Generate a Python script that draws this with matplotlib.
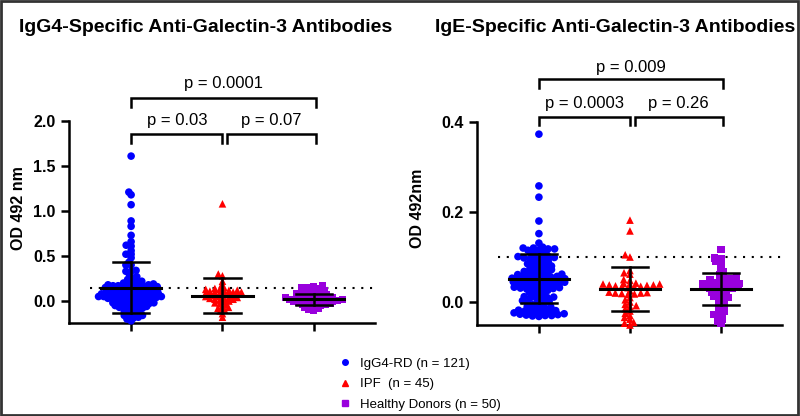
import numpy as np
import matplotlib
matplotlib.use('Agg')
import matplotlib.pyplot as plt
from matplotlib.patches import Rectangle
from matplotlib.lines import Line2D

plt.rcParams['font.family'] = ['Liberation Sans', 'DejaVu Sans']

groups = ['IgG4-RD', 'IPF', 'Healthy Donors']
legend_labels = ['IgG4-RD (n = 121)', 'IPF  (n = 45)', 'Healthy Donors (n = 50)']
colors = ['#0000FF', '#FF0000', '#9900DD']
markers = ['o', '^', 's']

# ---------------- Panel A: IgG4-specific ----------------
igg4_rd_A = [1.61, 1.21, 1.18, 1.07, 0.89, 0.83, 0.73, 0.66, 0.62, 0.61, 0.56, 0.52, 0.52,
             0.48, 0.43, 0.40, 0.40, 0.34, 0.33, 0.33, 0.29, 0.27, 0.26, 0.24, 0.22, 0.22,
             0.21, 0.20,
             0.195, 0.19, 0.185, 0.18, 0.18, 0.175, 0.17, 0.17, 0.165, 0.16, 0.16, 0.155,
             0.15, 0.15, 0.145,
             0.14, 0.14, 0.135, 0.13, 0.13, 0.125, 0.12, 0.12, 0.115, 0.11, 0.11, 0.105,
             0.10, 0.10, 0.10, 0.09, 0.09, 0.09, 0.08, 0.08, 0.08, 0.07, 0.07, 0.07,
             0.06, 0.06, 0.06, 0.05, 0.05, 0.05, 0.05, 0.04, 0.04, 0.04, 0.03, 0.03, 0.03,
             0.02, 0.02, 0.02, 0.01, 0.01, 0.00, 0.00,
             -0.01, -0.01, -0.02, -0.02, -0.02, -0.03, -0.03, -0.03,
             -0.04, -0.04, -0.05, -0.05, -0.06, -0.06, -0.07, -0.07, -0.08, -0.08,
             -0.09, -0.10, -0.11, -0.12, -0.13, -0.14, -0.15, -0.16, -0.16, -0.17,
             -0.18, -0.19, -0.20, -0.22, 0.035, 0.065]
ipf_A = [1.08, 0.30, 0.28, 0.22, 0.18, 0.15, 0.14, 0.13, 0.13, 0.12, 0.12, 0.11, 0.11,
         0.10, 0.10, 0.10, 0.09, 0.09, 0.08, 0.08, 0.07, 0.07, 0.06, 0.06, 0.05, 0.05,
         0.04, 0.04, 0.03, 0.03, 0.02, 0.02, 0.01, 0.00, -0.01, -0.02, -0.03, -0.04,
         -0.06, -0.07, -0.08, -0.09, -0.11, -0.14, -0.18]
hd_A = [0.17, 0.16, 0.15, 0.15, 0.14, 0.13, 0.12, 0.12, 0.11, 0.10, 0.10, 0.09, 0.08,
        0.08, 0.07, 0.07, 0.06, 0.06, 0.05, 0.05, 0.04, 0.04, 0.04, 0.03, 0.03, 0.03,
        0.02, 0.02, 0.02, 0.01, 0.01, 0.01, 0.00, 0.00, 0.00, -0.01, -0.01, -0.02,
        -0.02, -0.03, -0.03, -0.04, -0.04, -0.05, -0.05, -0.06, -0.07, -0.08, -0.09, -0.10]
mean_A = [0.148, 0.056, 0.019]
sd_lo_A = [-0.13, -0.137, -0.044]
sd_hi_A = [0.437, 0.26, 0.078]
cutoff_A = 0.15

# ---------------- Panel B: IgE-specific ----------------
igg4_rd_B = [0.373, 0.258, 0.233, 0.180, 0.152, 0.131,
             0.122, 0.120, 0.120, 0.118, 0.118, 0.116, 0.115,
             0.112, 0.110, 0.108,
             0.104, 0.102, 0.101, 0.100, 0.099, 0.098, 0.097, 0.096, 0.095,
             0.092, 0.090, 0.088, 0.087, 0.085,
             0.083, 0.081, 0.080, 0.078, 0.076,
             0.074, 0.072, 0.071, 0.070, 0.068, 0.066, 0.065,
             0.064, 0.062, 0.061, 0.060, 0.059, 0.058, 0.057, 0.056,
             0.055, 0.054, 0.053, 0.052, 0.052, 0.051, 0.050, 0.049, 0.048, 0.047, 0.046,
             0.045, 0.044, 0.044, 0.043, 0.042, 0.041, 0.040, 0.039, 0.038, 0.037, 0.036,
             0.035, 0.034, 0.033, 0.032, 0.031, 0.030, 0.030, 0.029, 0.028,
             0.026, 0.024, 0.022, 0.020, 0.018,
             0.014, 0.012, 0.011, 0.010, 0.009, 0.008,
             0.005, 0.003, 0.001, 0.000, -0.001, -0.003,
             -0.006, -0.008, -0.010, -0.011, -0.012, -0.014,
             -0.016, -0.018, -0.019, -0.020, -0.021, -0.022, -0.023,
             -0.024, -0.025, -0.026, -0.027, -0.028, -0.029, -0.030, -0.030, -0.031, -0.032]
ipf_B = [0.182, 0.158, 0.105, 0.100, 0.070, 0.065, 0.062, 0.050, 0.048,
         0.042, 0.041, 0.040, 0.040, 0.039, 0.038, 0.038, 0.037, 0.036, 0.035, 0.034,
         0.033, 0.032,
         0.025, 0.022, 0.021, 0.020, 0.020, 0.019, 0.018, 0.017,
         0.010, 0.005, 0.000, -0.005, -0.008, -0.010,
         -0.015, -0.020, -0.025, -0.030, -0.034, -0.038, -0.045, -0.047, -0.051]
hd_B = [0.116, 0.098, 0.096, 0.090, 0.086, 0.075, 0.068, 0.062,
        0.056, 0.054, 0.052, 0.050, 0.049, 0.047,
        0.044, 0.042, 0.041, 0.040, 0.039, 0.038, 0.037, 0.036,
        0.034, 0.032, 0.031, 0.030, 0.029, 0.028,
        0.024, 0.022, 0.020, 0.018, 0.014, 0.012, 0.010, 0.008,
        0.004, 0.000, -0.004, -0.008, -0.012, -0.016, -0.020, -0.024,
        -0.028, -0.030, -0.034, -0.038, -0.042, -0.048]
mean_B = [0.052, 0.028, 0.030]
sd_lo_B = [-0.003, -0.020, -0.007]
sd_hi_B = [0.106, 0.077, 0.064]
cutoff_B = 0.10

titles = ['IgG4-Specific Anti-Galectin-3 Antibodies', 'IgE-Specific Anti-Galectin-3 Antibodies']
ylabels = ['OD 492 nm', 'OD 492nm']
yticks_A = [0.0, 0.5, 1.0, 1.5, 2.0]
yticks_B = [0.0, 0.2, 0.4]
pvals_A = ['p = 0.03', 'p = 0.07', 'p = 0.0001']
pvals_B = ['p = 0.0003', 'p = 0.26', 'p = 0.009']

W, H = 800, 416
fig = plt.figure(figsize=(W / 100, H / 100), dpi=100)


def swarm_offsets(ypix, dx_full, dy_full):
    # anisotropic (elliptical) collision: scale y so the ellipse becomes a circle
    ys = np.asarray(ypix) * dx_full / dy_full
    diam = dx_full
    order = np.argsort(ys, kind='stable')
    placed = []
    xs = np.zeros(len(ys))
    for i in order:
        y = ys[i]
        near = [(px, py) for px, py in placed if abs(py - y) < diam]
        cands = [0.0]
        for px, py in near:
            dx = np.sqrt(diam ** 2 - (py - y) ** 2)
            cands += [px + dx, px - dx]
        cands.sort(key=lambda c: (abs(c), c))
        for c in cands:
            if all((c - px) ** 2 + (y - py) ** 2 >= diam ** 2 - 1e-6 for px, py in near):
                xs[i] = c
                break
        placed.append((xs[i], y))
    return xs


def panel(rect, data, means, lo, hi, cutoff, ylim, yticks, ylabel, title,
          pvals, br_levels, text_levels, title_x, ylabel_x, coll):
    ax = fig.add_axes(rect)
    ax.set_xlim(-0.68, 2.67)
    ax.set_ylim(*ylim)
    for s in ['top', 'right']:
        ax.spines[s].set_visible(False)
    for s in ['left', 'bottom']:
        ax.spines[s].set_linewidth(1.8)
    ax.set_xticks([0, 1, 2])
    ax.set_xticklabels([])
    ax.set_yticks(yticks)
    ax.set_yticklabels(['%.1f' % t for t in yticks], fontsize=11.5, fontweight='bold')
    ax.tick_params(axis='both', width=1.8, length=6, direction='out')
    ax.set_ylabel(ylabel, fontsize=11.5, fontweight='bold')
    ax.yaxis.set_label_coords(ylabel_x, 0.5, transform=fig.transFigure)

    fig.canvas.draw()
    tr = ax.transData
    x_px_per = tr.transform((1, 0))[0] - tr.transform((0, 0))[0]
    for i, vals in enumerate(data):
        vals = np.asarray(vals, dtype=float)
        ypix = np.array([tr.transform((0, v))[1] for v in vals])
        xo = swarm_offsets(ypix, coll[0], coll[1])
        ax.scatter(i + xo / x_px_per, vals, s=30 if markers[i] != 's' else 27,
                   marker=markers[i], color=colors[i], edgecolors='none',
                   zorder=3, clip_on=False)

    # cutoff dotted line
    ax.plot([-0.45, 2.67], [cutoff, cutoff], color='black', lw=1.5,
            linestyle=(0, (1, 3.2)), zorder=2)

    # mean +/- SD
    for i in range(3):
        ax.plot([i - 0.33, i + 0.33], [means[i], means[i]], color='black', lw=2.2, zorder=4)
        ax.plot([i, i], [lo[i], hi[i]], color='black', lw=1.8, zorder=4)
        for v in (lo[i], hi[i]):
            ax.plot([i - 0.2, i + 0.2], [v, v], color='black', lw=1.8, zorder=4)

    # brackets
    spans = [(0.0, 1.0), (1.05, 2.02), (0.0, 2.02)]
    for k, (x0, x1) in enumerate(spans):
        yb, yleg = br_levels[k]
        ax.plot([x0, x0, x1, x1], [yleg, yb, yb, yleg], color='black', lw=1.8,
                clip_on=False, solid_joinstyle='miter')
        ax.text((x0 + x1) / 2, text_levels[k], pvals[k], ha='center', va='center',
                fontsize=12, clip_on=False)

    fig.text(title_x, 1 - 27 / H, title, ha='center', va='center', fontsize=14,
             fontweight='bold')
    return ax


axA = panel([69 / W, 1 - 323 / H, (375 - 69) / W, (323 - 121) / H],
            [igg4_rd_A, ipf_A, hd_A], mean_A, sd_lo_A, sd_hi_A, cutoff_A,
            (-0.244, 2.0), yticks_A, ylabels[0], titles[0], pvals_A,
            [(1.855, 1.755), (1.855, 1.755), (2.255, 2.155)], [2.0, 2.0, 2.42],
            206 / W, 26 / W, (5.2, 3.0))
axB = panel([477 / W, 1 - 325 / H, (782 - 477) / W, (325 - 122) / H],
            [igg4_rd_B, ipf_B, hd_B], mean_B, sd_lo_B, sd_hi_B, cutoff_B,
            (-0.051, 0.4), yticks_B, ylabels[1], titles[1], pvals_B,
            [(0.412, 0.393), (0.412, 0.393), (0.496, 0.476)], [0.442, 0.442, 0.522],
            615 / W, 425 / W, (6.5, 3.3))

handles = [Line2D([], [], linestyle='none', marker=markers[i], color=colors[i],
                  markersize=4) for i in range(3)]
fig.legend(handles, legend_labels, loc='upper left',
           bbox_to_anchor=(332 / W, 1 - 351 / H), frameon=False, fontsize=9.5,
           handlelength=1.0, handletextpad=0.6, labelspacing=0.62, borderpad=0)

fig.add_artist(Rectangle((0.001, 0.002), 0.997, 0.996, transform=fig.transFigure,
                         fill=False, edgecolor='#333333', lw=2))

fig.savefig('out.png', dpi=100)
